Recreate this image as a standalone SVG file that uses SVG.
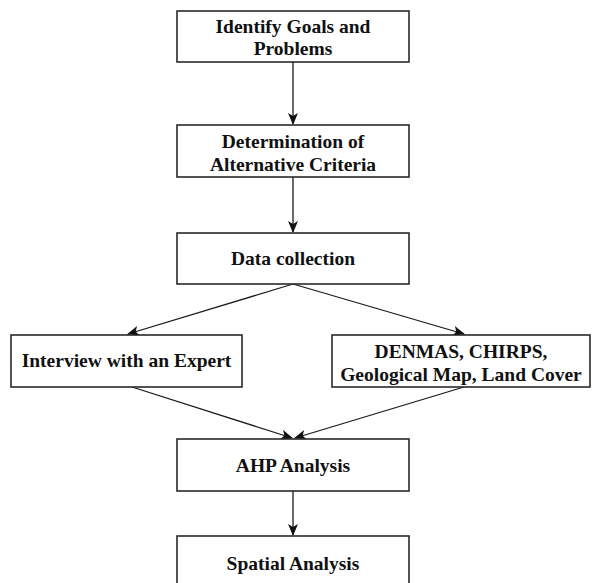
<svg xmlns="http://www.w3.org/2000/svg" width="592" height="583" viewBox="0 0 592 583">
<defs>
<style>
.box{fill:#fff;stroke:#2a2a2a;stroke-width:1.6}
.t{font-family:"Liberation Serif","Times New Roman",serif;font-weight:bold;font-size:19.5px;fill:#111;text-anchor:middle}
.c{fill:none;stroke:#1a1a1a;stroke-width:1.3}
</style>
<marker id="ah" viewBox="0 0 12 10" refX="11" refY="5" markerWidth="12" markerHeight="10" markerUnits="userSpaceOnUse" orient="auto">
<path d="M0,0 L12,5 L0,10 L3,5 Z" fill="#111"/>
</marker>
</defs>
<rect width="592" height="583" fill="#fff"/>
<g id="connectors">
<line class="c" x1="293" y1="62" x2="293" y2="124" marker-end="url(#ah)"/>
<line class="c" x1="293" y1="177" x2="293" y2="232" marker-end="url(#ah)"/>
<line class="c" x1="293" y1="284" x2="128" y2="334" marker-end="url(#ah)"/>
<line class="c" x1="293" y1="284" x2="464" y2="334" marker-end="url(#ah)"/>
<line class="c" x1="132" y1="387" x2="292" y2="438" marker-end="url(#ah)"/>
<line class="c" x1="464" y1="387" x2="295" y2="438" marker-end="url(#ah)"/>
<line class="c" x1="293" y1="491" x2="293" y2="535" marker-end="url(#ah)"/>
</g>
<g id="n1">
<rect class="box" x="177" y="11" width="232" height="51"/>
<text class="t" x="293" y="33">Identify Goals and</text>
<text class="t" x="293" y="55">Problems</text>
</g>
<g id="n2">
<rect class="box" x="177" y="125" width="232" height="52"/>
<text class="t" x="293" y="148">Determination of</text>
<text class="t" x="293" y="171">Alternative Criteria</text>
</g>
<g id="n3">
<rect class="box" x="177" y="233" width="232" height="51"/>
<text class="t" x="293" y="265">Data collection</text>
</g>
<g id="n4">
<rect class="box" x="11" y="335" width="231" height="52"/>
<text class="t" x="126.5" y="367">Interview with an Expert</text>
</g>
<g id="n5">
<rect class="box" x="332" y="335" width="258" height="52"/>
<text class="t" x="461" y="358">DENMAS, CHIRPS,</text>
<text class="t" x="461" y="381">Geological Map, Land Cover</text>
</g>
<g id="n6">
<rect class="box" x="177" y="439" width="232" height="52"/>
<text class="t" x="293" y="472">AHP Analysis</text>
</g>
<g id="n7">
<rect class="box" x="177" y="536" width="232" height="52"/>
<text class="t" x="293" y="570">Spatial Analysis</text>
</g>
</svg>
